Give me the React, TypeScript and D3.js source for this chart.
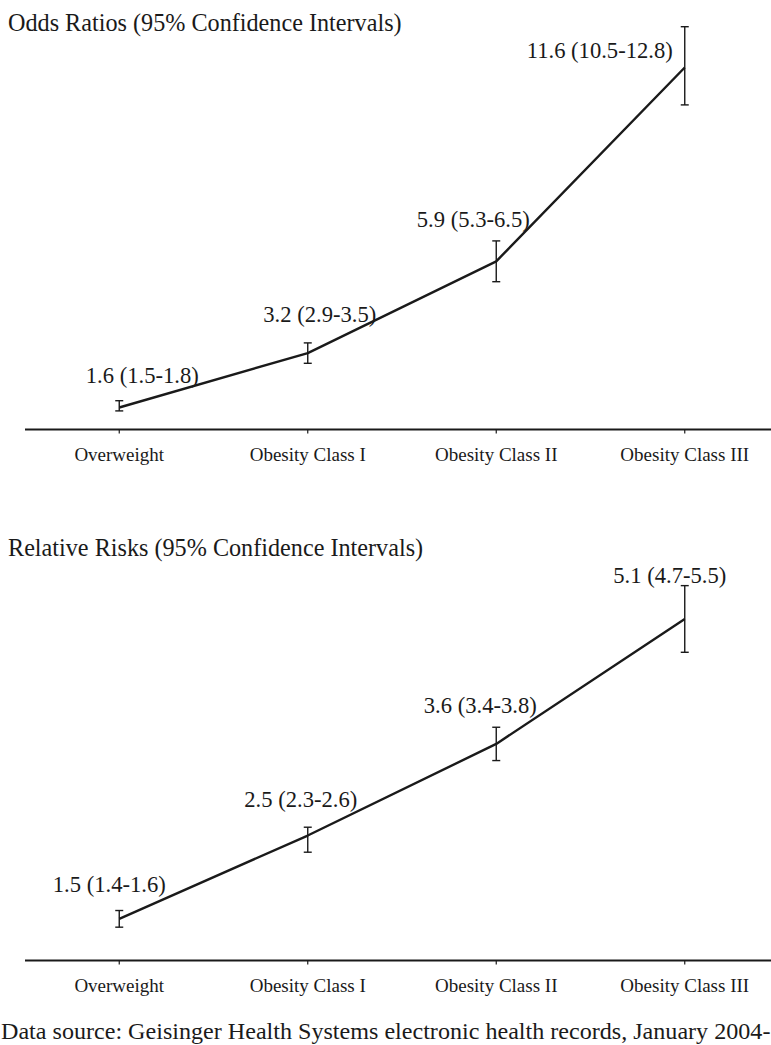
import React from "react";
import * as d3 from "d3";

// ---- data ----
const categories = ["Overweight", "Obesity Class I", "Obesity Class II", "Obesity Class III"];
const oddsRatio = [1.6, 3.2, 5.9, 11.6];
const oddsLow = [1.5, 2.9, 5.3, 10.5];
const oddsHigh = [1.8, 3.5, 6.5, 12.8];
const riskRatio = [1.5, 2.5, 3.6, 5.1];
const riskLow = [1.4, 2.3, 3.4, 4.7];
const riskHigh = [1.6, 2.6, 3.8, 5.5];
const topTitle = "Odds Ratios (95% Confidence Intervals)";
const bottomTitle = "Relative Risks (95% Confidence Intervals)";
const footer = "Data source: Geisinger Health Systems electronic health records, January 2004-";

// ---- layout (label offsets relative to the point) ----
const topLabelOffsets = [
  [23, -25],
  [12, -31],
  [-23, -34],
  [-85, -10],
];
const bottomLabelOffsets = [
  [-10, -27],
  [-7, -29],
  [-16, -31],
  [-15, -36],
];

const W = 771;
const H = 1045;
const FONT = "'Liberation Serif', 'Times New Roman', serif";
const INK = "#1a1a1a";

type PanelProps = {
  title: string;
  titleY: number;
  values: number[];
  lows: number[];
  highs: number[];
  domain: [number, number];
  range: [number, number];
  offsets: number[][];
};

function Panel({ title, titleY, values, lows, highs, domain, range, offsets }: PanelProps) {
  const x = d3.scaleBand<string>().domain(categories).range([25, 779]).padding(0);
  const y = d3.scaleLinear().domain(domain).range(range);
  const cx = (c: string) => (x(c) as number) + x.bandwidth() / 2;
  const line = d3
    .line<number>()
    .x((_, i) => cx(categories[i]))
    .y((v) => y(v));
  const baseY = range[0];
  const fmt = (v: number) => (Number.isInteger(v) ? v.toFixed(1) : String(v));
  return (
    <g>
      <text x={8} y={titleY} fontSize={24.2} fill={INK} fontFamily={FONT}>
        {title}
      </text>
      <line x1={25} x2={W} y1={baseY} y2={baseY} stroke={INK} strokeWidth={2} />
      {categories.map((c) => (
        <g key={c}>
          <line x1={cx(c)} x2={cx(c)} y1={baseY} y2={baseY + 4} stroke={INK} strokeWidth={1.2} />
          <text x={cx(c)} y={baseY + 31} textAnchor="middle" fontSize={19} fill={INK} fontFamily={FONT}>
            {c}
          </text>
        </g>
      ))}
      <path d={line(values) || ""} fill="none" stroke={INK} strokeWidth={2.4} strokeLinejoin="round" />
      {categories.map((c, i) => {
        const px = cx(c);
        return (
          <g key={"e" + c} stroke={INK} strokeWidth={1.4}>
            <line x1={px} x2={px} y1={y(lows[i])} y2={y(highs[i])} />
            <line x1={px - 4} x2={px + 4} y1={y(lows[i])} y2={y(lows[i])} />
            <line x1={px - 4} x2={px + 4} y1={y(highs[i])} y2={y(highs[i])} />
          </g>
        );
      })}
      {categories.map((c, i) => (
        <text
          key={"l" + c}
          x={cx(c) + offsets[i][0]}
          y={y(values[i]) + offsets[i][1]}
          textAnchor="middle"
          fontSize={22.6}
          fill={INK}
          fontFamily={FONT}
        >
          {`${fmt(values[i])} (${fmt(lows[i])}-${fmt(highs[i])})`}
        </text>
      ))}
    </g>
  );
}

export default function App() {
  return (
    <svg
      width={W}
      height={H}
      viewBox={`0 0 ${W} ${H}`}
      style={{ position: "absolute", left: 0, top: 0, background: "#fff" }}
    >
      <rect width={W} height={H} fill="#fff" />
      <Panel
        title={topTitle}
        titleY={31}
        values={oddsRatio}
        lows={oddsLow}
        highs={oddsHigh}
        domain={[0.95, 13]}
        range={[429.6, 19.9]}
        offsets={topLabelOffsets}
      />
      <Panel
        title={bottomTitle}
        titleY={556}
        values={riskRatio}
        lows={riskLow}
        highs={riskHigh}
        domain={[1, 5.6]}
        range={[960.5, 577.3]}
        offsets={bottomLabelOffsets}
      />
      <text x={1} y={1039} fontSize={24.1} fill={INK} fontFamily={FONT}>
        {footer}
      </text>
    </svg>
  );
}
